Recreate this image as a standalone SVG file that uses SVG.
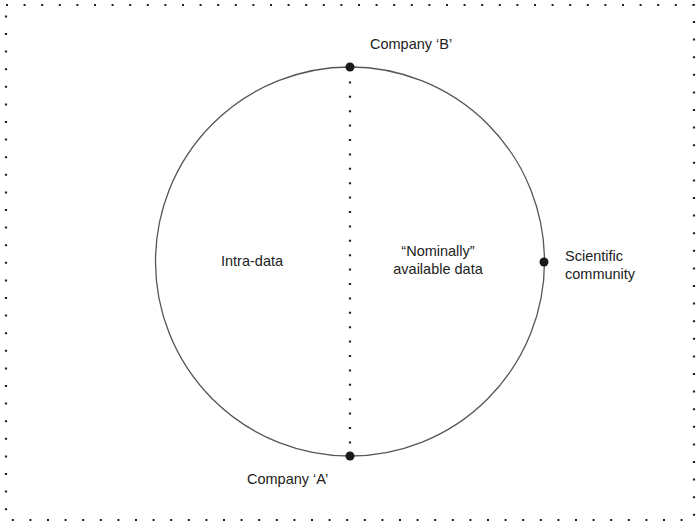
<svg xmlns="http://www.w3.org/2000/svg" width="700" height="523" viewBox="0 0 700 523">
<style>
text{font-family:"Liberation Sans",Arial,sans-serif;font-size:14.5px;fill:#222}
.dot{fill:#1a1a1a}
</style>
<rect width="700" height="523" fill="#fff"/>
<rect id="frame" x="6" y="5" width="688" height="515" fill="none" stroke="#222" stroke-width="2.2" stroke-dasharray="2 15.6"/>
<g id="connectors">
<line x1="350" y1="67" x2="350" y2="456" stroke="#222" stroke-width="2.2" stroke-dasharray="2 12.4"/>
</g>
<g id="circle"><circle cx="350" cy="261.5" r="194.5" fill="none" stroke="#555" stroke-width="1.3"/></g>
<g id="company-b"><circle class="dot" cx="350" cy="67" r="4.5"/><text x="370" y="49">Company ‘B’</text></g>
<g id="company-a"><circle class="dot" cx="350" cy="456" r="4.5"/><text x="247" y="484">Company ‘A’</text></g>
<g id="scientific"><circle class="dot" cx="544" cy="262" r="4.5"/><text x="565" y="261">Scientific</text><text x="565" y="279">community</text></g>
<g id="intra"><text x="221" y="266">Intra-data</text></g>
<g id="nominal"><text x="438" y="256" text-anchor="middle">“Nominally”</text><text x="438" y="274" text-anchor="middle">available data</text></g>
</svg>
